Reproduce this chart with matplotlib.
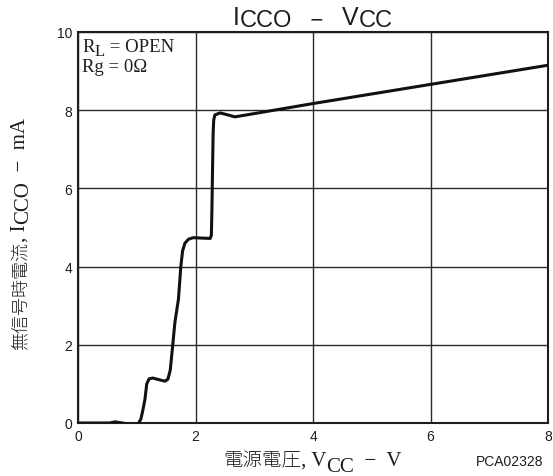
import matplotlib
matplotlib.use("Agg")
import matplotlib.pyplot as plt

vcc = [0, 0.54, 0.63, 0.75, 0.92, 1.02, 1.07, 1.10, 1.14, 1.17, 1.21, 1.27, 1.40, 1.48, 1.53,
       1.57, 1.60, 1.65, 1.71, 1.75, 1.78, 1.82, 1.88, 1.96, 2.10, 2.25, 2.27, 2.28, 2.29,
       2.30, 2.31, 2.33, 2.42, 2.55, 2.67, 2.87, 4.0, 6.0, 8.0]
icco = [0, 0, 0.03, 0.0, -0.04, -0.03, 0.1, 0.3, 0.61, 1.0, 1.13, 1.15, 1.1, 1.07, 1.12,
        1.35, 1.8, 2.58, 3.17, 4.0, 4.4, 4.6, 4.7, 4.74, 4.73, 4.72, 4.8, 5.5, 6.5,
        7.4, 7.75, 7.88, 7.93, 7.88, 7.83, 7.88, 8.17, 8.66, 9.15]
xticks = [0, 2, 4, 6, 8]
yticks = [0, 2, 4, 6, 8, 10]

W, H = 553, 477
SERIF = 'Liberation Serif'
SANS = 'Liberation Sans'
CJK = 'Noto Sans CJK JP'
INK = '#1e1e1e'

fig = plt.figure(figsize=(W / 100, H / 100), dpi=100)
ax = fig.add_axes([78 / W, 53 / H, 470 / W, 391 / H])
ax.plot(vcc, icco, color='#111111', lw=2.2, solid_capstyle='round',
        solid_joinstyle='round', zorder=3)
ax.set_xlim(0, 8)
ax.set_ylim(0, 10)
ax.set_xticks(xticks)
ax.set_yticks(yticks)
ax.grid(True, color='#2a2a2a', lw=1.0)
ax.tick_params(length=0, pad=4, labelsize=10)
for lab in ax.get_xticklabels() + ax.get_yticklabels():
    lab.set_family(SANS)
    lab.set_color(INK)
for s in ax.spines.values():
    s.set_color(INK)
    s.set_linewidth(1.5)

renderer = fig.canvas.get_renderer()


def place(x_px, y_px, pieces, rotation=0, weight='normal'):
    """pieces: (text, fontsize, baseline shift px (down positive), family)"""
    pos = 0.0
    for txt, size, dy, fam in pieces:
        if rotation == 0:
            px, py = x_px + pos, H - (y_px + dy)
        else:
            px, py = x_px + dy, H - (y_px - pos)
        t = fig.text(px / W, py / H, txt, fontsize=size, family=fam, color=INK,
                     ha='left', va='baseline', rotation=rotation, rotation_mode='anchor',
                     fontweight=weight if fam == CJK else 'normal')
        bb = t.get_window_extent(renderer)
        pos += bb.width if rotation == 0 else bb.height


# annotation box
place(82, 52, [('R', 13.5, 0, SERIF), ('L', 12, 4, SERIF), (' = OPEN', 13.5, 0, SERIF)])
place(82, 72, [('Rg = 0Ω', 13.5, 0, SERIF)])

# title
place(233, 25, [('I', 18, 0, SANS), ('CCO', 17, 2, SANS), ('   −   ', 16, 2, SANS),
                ('V', 18, 0, SANS), ('CC', 17, 2, SANS)])
# x label
place(223, 466, [('電源電圧', 14, 0, CJK), (', V', 15, 0, SERIF), ('CC', 15, 6, SERIF),
                 ('  −  V', 15, 0, SERIF)], weight='light')
# y label
place(25, 350, [('無信号時電流', 13, 0, CJK), (', I', 15, 0, SERIF), ('CCO', 15, 3, SERIF),
                ('  −  mA', 15, 0, SERIF)], rotation=90, weight='light')

fig.text(510 / W, 1 - 462 / H, 'PCA02328', ha='center', va='center', fontsize=10,
         family=SANS, color=INK)

fig.savefig('out.png', dpi=100)
